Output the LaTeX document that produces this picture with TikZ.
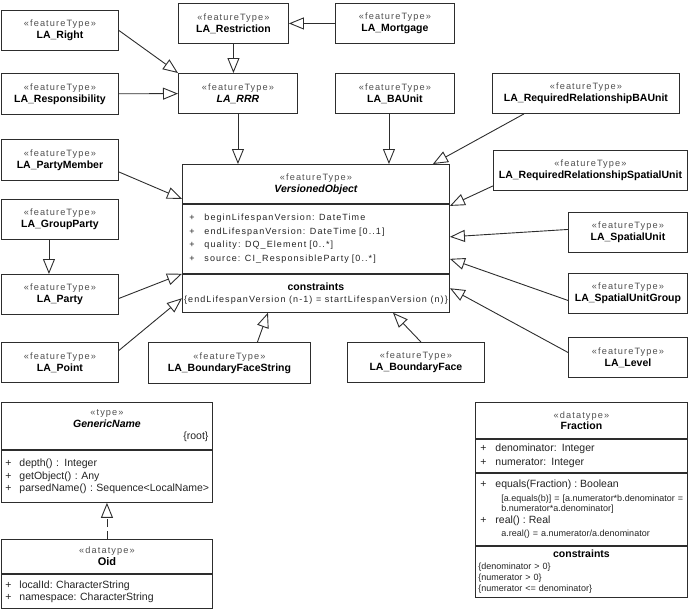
\documentclass[tikz,border=0pt]{standalone}
\usepackage{fontspec}
\setmainfont{Liberation Sans}
\newfontfamily\spacedfont[LetterSpace=12]{Liberation Sans}
\usetikzlibrary{arrows.meta,positioning,calc}
\definecolor{LineGray}{RGB}{45,45,45}
\definecolor{TextGray}{RGB}{35,35,35}
\definecolor{StereoGray}{RGB}{80,80,80}
\frenchspacing
\newcommand{\stereo}[1]{{\spacedfont\fontsize{9.2}{12}\selectfont\color{StereoGray}«#1»}}
\newcommand{\ftname}[1]{{\fontsize{10.5}{12}\selectfont\bfseries\color{black}#1}}
\newcommand{\attr}[2][14pt]{\makebox[#1][l]{+}\mbox{#2}}
\newcommand{\spaced}{\spacedfont\fontsize{9}{13.6}\selectfont}
\newcommand{\bigop}[1]{{\fontsize{10.5}{12}\selectfont #1}}

\begin{document}
\begin{tikzpicture}[x=1pt, y=-1pt, line width=0.9pt,
  every node/.style={font=\fontsize{10.5}{12}\selectfont, text=TextGray},
  ftbox/.style={draw=LineGray, fill=white, anchor=north west, inner sep=0pt, align=center, minimum height=40pt},
  compart/.style={draw=LineGray, anchor=north west, inner ysep=0pt},
  gen/.style={draw=LineGray, -{Triangle[open, length=15pt, width=12pt]}},
  realize/.style={gen, dash pattern=on 8pt off 4pt}]
\useasboundingbox (0,0) rectangle (691,613);

% feature types round VersionedObject
\node[ftbox, minimum width=117pt] (right) at (1,10) {\stereo{featureType}\\\ftname{LA\_Right}};
\node[ftbox, minimum width=110pt] (restriction) at (178,3) {\stereo{featureType}\\\ftname{LA\_Restriction}};
\node[ftbox, minimum width=119pt] (mortgage) at (335,3) {\stereo{featureType}\\\ftname{LA\_Mortgage}};
\node[ftbox, minimum width=117pt, minimum height=41pt] (responsibility) at (1,73) {\stereo{featureType}\\\ftname{LA\_Responsibility}};
\node[ftbox, minimum width=119pt] (rrr) at (178,73) {\stereo{featureType}\\\ftname{\itshape LA\_RRR}};
\node[ftbox, minimum width=119pt] (baunit) at (335,73) {\stereo{featureType}\\\ftname{LA\_BAUnit}};
\node[ftbox, minimum width=187pt] (reqba) at (492,73) {\stereo{featureType}\\\ftname{LA\_RequiredRelationshipBAUnit}};
\node[ftbox, minimum width=117pt, minimum height=41pt] (partymember) at (1,139) {\stereo{featureType}\\\ftname{LA\_PartyMember}};
\node[ftbox, minimum width=117pt] (groupparty) at (1,199) {\stereo{featureType}\\\ftname{LA\_GroupParty}};
\node[ftbox, minimum width=117pt] (party) at (1,274) {\stereo{featureType}\\\ftname{LA\_Party}};
\node[ftbox, minimum width=117pt] (point) at (1,342) {\stereo{featureType}\\\ftname{LA\_Point}};
\node[ftbox, minimum width=162pt, minimum height=41pt] (bfs) at (148,342) {\stereo{featureType}\\\ftname{LA\_BoundaryFaceString}};
\node[ftbox, minimum width=137pt] (bf) at (347,342) {\stereo{featureType}\\\ftname{LA\_BoundaryFace}};
\node[ftbox, minimum width=194pt] (reqsu) at (493,150) {\stereo{featureType}\\\ftname{LA\_RequiredRelationshipSpatialUnit}};
\node[ftbox, minimum width=119pt] (spatialunit) at (568,212) {\stereo{featureType}\\\ftname{LA\_SpatialUnit}};
\node[ftbox, minimum width=119pt] (sug) at (568,273) {\stereo{featureType}\\\ftname{LA\_SpatialUnitGroup}};
\node[ftbox, minimum width=119pt] (level) at (568,337) {\stereo{featureType}\\\ftname{LA\_Level}};

% VersionedObject
\node[compart, minimum width=267pt, minimum height=39pt, align=center, inner sep=0pt] (voh) at (182,164) {\stereo{featureType}\\\ftname{\itshape VersionedObject}};
\node[compart, text width=253pt, inner xsep=7pt, minimum height=69pt, font=\spaced] (voa) at (voh.south west)
  {\attr[15pt]{beginLifespanVersion:\, DateTime}\\\attr[15pt]{endLifespanVersion:\, DateTime [0..1]}\\\attr[15pt]{quality:\, DQ\_Element [0..*]}\\\attr[15pt]{source:\, CI\_ResponsibleParty [0..*]}};
\node[compart, minimum width=267pt, minimum height=38pt, align=center, inner sep=0pt] (voc) at (voa.south west)
  {\ftname{constraints}\\{\spacedfont\fontsize{9}{12}\selectfont\{endLifespanVersion (n-1) = startLifespanVersion (n)\}}};

% generalisations
\draw[gen] (right.east) -- (rrr.north west);
\draw[gen] (restriction) -- (restriction |- rrr.north);
\draw[gen] (mortgage) -- (restriction);
\draw[gen] (responsibility) -- (rrr);
\draw[gen] (rrr) -- (rrr |- voh.north);
\coordinate (bau) at ($(baunit.south)+(-6,0)$);
\draw[gen] (bau) -- (bau |- voh.north);
\draw[gen] ($(reqba.south)+(-62,0)$) -- ($(voh.north east)+(-17,0)$);
\draw[gen] ($(reqsu.south west)+(0,-5)$) -- ($(voh.south east)+(0,2)$);
\draw[gen] ($(spatialunit.west)+(0,-3)$) -- ($(voa.east)+(0,-2)$);
\draw[gen] ($(sug.west)+(0,7)$) -- ($(voa.east)+(0,20)$);
\draw[gen] ($(level.west)+(0,-5)$) -- ($(voc.east)+(0,-5)$);
\draw[gen] ($(partymember.east)+(0,12)$) -- ($(voh.south west)+(0,-5)$);
\draw[gen] ($(party.east)+(0,4)$) -- (voa.south west);
\draw[gen] ($(point.east)+(0,-12)$) -- ($(voc.west)+(0,5)$);
\draw[gen] ($(bfs.north)+(28,0)$) -- ($(voc.south)+(-48,0)$);
\draw[gen] ($(bf.north)+(5,0)$) -- ($(voc.south)+(77,0)$);
\draw[gen] ($(groupparty.south)+(-11,0)$) -- ($(party.north)+(-11,0)$);

% GenericName and Oid
\node[compart, text width=203pt, inner xsep=4pt, minimum height=47pt, align=center] (gnh) at (1,402)
  {\stereo{type}\\\ftname{\itshape GenericName}\\\makebox[\linewidth][r]{\{root\}}};
\node[compart, text width=203pt, inner xsep=4pt, minimum height=52pt, align=left, font=\fontsize{10.5}{12.5}\selectfont] (gna) at (gnh.south west)
  {\attr{depth() :\, Integer}\\\attr{getObject() : Any}\\\attr{parsedName() : Sequence<LocalName>}};
\node[compart, minimum width=211pt, minimum height=34pt, align=center, inner sep=0pt] (oidh) at (1,539)
  {\stereo{datatype}\\{\fontsize{11}{12}\selectfont\bfseries\color{black}Oid}};
\node[compart, text width=203pt, inner xsep=4pt, minimum height=34pt, align=left] (oida) at (oidh.south west)
  {\attr{localId: CharacterString}\\\attr{namespace: CharacterString}};
\draw[realize] (oidh) -- (gna);

% Fraction
\node[compart, minimum width=212pt, minimum height=36pt, align=center, inner sep=0pt, font=\fontsize{10.5}{11}\selectfont] (frh) at (475,402)
  {\stereo{datatype}\\\ftname{Fraction}};
\node[compart, text width=202pt, inner xsep=5pt, minimum height=33pt, align=left, font=\fontsize{10.5}{14}\selectfont] (fra) at (frh.south west)
  {\attr[15pt]{denominator:\, Integer}\\\attr[15pt]{numerator:\, Integer}};
\node[compart, text width=202pt, inner xsep=5pt, minimum height=72pt, align=left, font=\fontsize{9}{10}\selectfont] (fro) at (fra.south west)
  {\bigop{\attr[15pt]{equals(Fraction) : Boolean}}\\[4pt]
   \hspace*{21pt}\mbox{[a.equals(b)] = [a.numerator*b.denominator =}\\
   \hspace*{21pt}b.numerator*a.denominator]\\[2pt]
   \bigop{\attr[15pt]{real() : Real}}\\[3pt]
   \hspace*{21pt}a.real() = a.numerator/a.denominator};
\node[compart, text width=206pt, inner xsep=3pt, minimum height=51pt, align=left, font=\fontsize{9}{11}\selectfont] (frc) at (fro.south west)
  {\makebox[\linewidth]{\ftname{constraints}}\\[1pt]
   \{denominator > 0\}\\\{numerator > 0\}\\\{numerator <= denominator\}};
\end{tikzpicture}
\end{document}
